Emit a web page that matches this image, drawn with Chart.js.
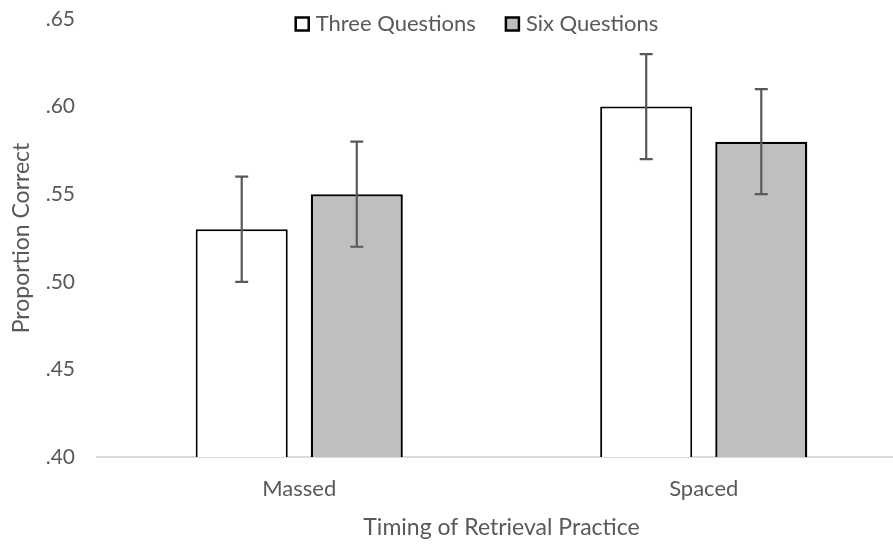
<!DOCTYPE html>
<html>
<head>
<meta charset="utf-8">
<script src="https://cdn.jsdelivr.net/npm/chart.js@4.4.0/dist/chart.umd.min.js"></script>
<style>
html,body{margin:0;padding:0;background:#fff;overflow:hidden;}
#wrap{width:908px;height:544px;}
</style>
</head>
<body>
<div id="wrap"><canvas id="c" width="908" height="544"></canvas></div>
<script>
const categories = ["Massed", "Spaced"];
const seriesNames = ["Three Questions", "Six Questions"];
const threeValues = [0.53, 0.60];
const sixValues = [0.55, 0.58];
const threeErrors = [0.03, 0.03];
const sixErrors = [0.03, 0.03];
const yTicks = [0.40, 0.45, 0.50, 0.55, 0.60, 0.65];

const FONT = "Lato, 'Open Sans', sans-serif";
const GREY = "#595959";

const errorBars = {
  id: 'errorBars',
  afterDatasetsDraw(chart) {
    const ctx = chart.ctx;
    const y = chart.scales.y;
    chart.data.datasets.forEach((ds, di) => {
      const meta = chart.getDatasetMeta(di);
      meta.data.forEach((bar, i) => {
        const v = ds.data[i], e = ds.errors[i];
        const yt = y.getPixelForValue(v + e), yb = y.getPixelForValue(v - e);
        ctx.save();
        ctx.strokeStyle = GREY;
        ctx.lineWidth = 2.2;
        ctx.beginPath();
        ctx.moveTo(bar.x, yt); ctx.lineTo(bar.x, yb);
        ctx.moveTo(bar.x - 6.5, yt); ctx.lineTo(bar.x + 6.5, yt);
        ctx.moveTo(bar.x - 6.5, yb); ctx.lineTo(bar.x + 6.5, yb);
        ctx.stroke();
        ctx.restore();
      });
    });
  }
};

const topLegend = {
  id: 'topLegend',
  afterDraw(chart) {
    const ctx = chart.ctx;
    ctx.save();
    ctx.font = "22px " + FONT;
    ctx.textBaseline = 'middle';
    const box = 13, gapText = 7, gapItem = 30;
    const items = chart.data.datasets.map(ds => ({ ds, w: ctx.measureText(ds.label).width }));
    const total = items.reduce((s, it) => s + box + gapText + it.w, 0) + gapItem * (items.length - 1);
    let x = 477 - total / 2;
    const cy = 24;
    items.forEach(it => {
      ctx.fillStyle = it.ds.backgroundColor;
      ctx.fillRect(x, cy - box / 2, box, box);
      ctx.strokeStyle = it.ds.borderColor;
      ctx.lineWidth = 2.5;
      ctx.strokeRect(x, cy - box / 2, box, box);
      ctx.fillStyle = GREY;
      ctx.fillText(it.ds.label, x + box + gapText, cy);
      x += box + gapText + it.w + gapItem;
    });
    ctx.restore();
  }
};

new Chart(document.getElementById('c'), {
  type: 'bar',
  data: {
    labels: categories,
    datasets: [
      { label: seriesNames[0], data: threeValues, errors: threeErrors,
        backgroundColor: '#ffffff', borderColor: '#000000', borderWidth: 2,
        categoryPercentage: 0.569, barPercentage: 0.8 },
      { label: seriesNames[1], data: sixValues, errors: sixErrors,
        backgroundColor: '#bfbfbf', borderColor: '#000000', borderWidth: 2.3,
        categoryPercentage: 0.569, barPercentage: 0.8 }
    ]
  },
  options: {
    responsive: false,
    animation: false,
    layout: { padding: { top: 19, right: 2, left: 0, bottom: 3 } },
    plugins: {
      tooltip: { enabled: false },
      legend: { display: false }
    },
    scales: {
      x: {
        grid: { display: false },
        border: { display: true, color: '#d9d9d9', width: 2 },
        ticks: { color: GREY, font: { family: FONT, size: 22 }, padding: 11 },
        title: { display: true, text: 'Timing of Retrieval Practice', color: GREY,
                 font: { family: FONT, size: 23 }, padding: { top: 0, bottom: 0 } }
      },
      y: {
        min: 0.40, max: 0.65,
        afterBuildTicks(scale) { scale.ticks = yTicks.map(v => ({ value: v })); },
        afterFit(scale) { scale.width = 97; scale.paddingTop = 0; scale.paddingBottom = 0; },
        grid: { display: false },
        border: { display: false },
        ticks: {
          color: GREY, font: { family: FONT, size: 21 }, padding: 14,
          callback: v => v.toFixed(2).replace(/^0/, '')
        },
        title: { display: true, text: 'Proportion Correct', color: GREY,
                 font: { family: FONT, size: 23 }, padding: { top: 8, bottom: 0 } }
      }
    }
  },
  plugins: [errorBars, topLegend]
});
</script>
</body>
</html>
